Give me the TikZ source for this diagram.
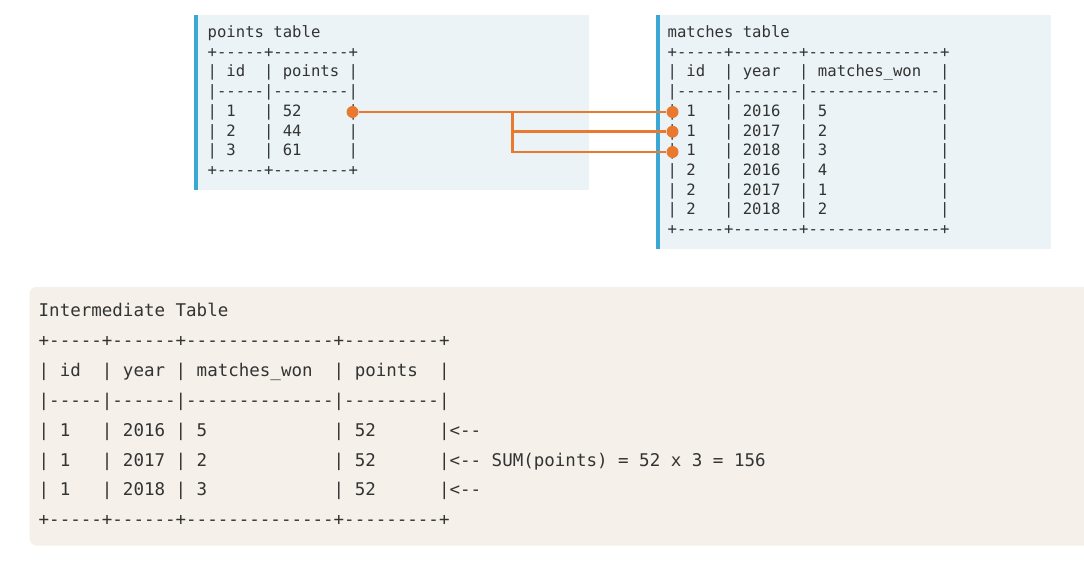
\documentclass[tikz,border=0pt]{standalone}
\usepackage{fontspec}
\setmonofont{DejaVu Sans Mono}
\definecolor{toppanel}{HTML}{EBF3F7}
\definecolor{accent}{HTML}{3AA7D4}
\definecolor{botpanel}{HTML}{F5F1EA}
\definecolor{link}{HTML}{E8792F}
\definecolor{ink}{HTML}{333333}
\tikzset{
  topline/.style={anchor=base west, inner sep=0pt, text=ink, font=\ttfamily\fontsize{15.6}{18}\selectfont},
  botline/.style={anchor=base west, inner sep=0pt, text=ink, font=\ttfamily\fontsize{17.5}{20}\selectfont},
  dot/.style={circle, fill=link, inner sep=0pt, minimum size=12pt},
  conn/.style={draw=link, line width=2.8pt, line join=miter},
}
\begin{document}
\begin{tikzpicture}[x=1pt,y=-1pt]
\useasboundingbox (0,0) rectangle (1084,570);
\fill[white] (0,0) rectangle (1084,570);
% panels
\fill[toppanel] (193.5,15) rectangle (589,190);
\fill[accent] (193.5,15) rectangle (197.5,190);
\fill[toppanel] (655.5,15) rectangle (1051,249);
\fill[accent] (655.5,15) rectangle (659.5,249);
\fill[botpanel, rounded corners=7pt] (29.5,287) rectangle (1095,545.5);
% points table
\node[topline] (pt0) at (207.5,37.5) {points~table};
\node[topline] (pt1) at (207.5,57.2) {+-----+--------+};
\node[topline] (pt2) at (207.5,76.9) {|~id~~|~points~|};
\node[topline] (pt3) at (207.5,96.6) {|-----|--------|};
\node[topline] (pt4) at (207.5,116.3) {|~1~~~|~52~~~~~|};
\node[topline] (pt5) at (207.5,136) {|~2~~~|~44~~~~~|};
\node[topline] (pt6) at (207.5,155.7) {|~3~~~|~61~~~~~|};
\node[topline] (pt7) at (207.5,175.4) {+-----+--------+};
% matches table
\node[topline] (mt0) at (667.5,37.5) {matches~table};
\node[topline] (mt1) at (667.5,57.2) {+-----+-------+--------------+};
\node[topline] (mt2) at (667.5,76.9) {|~id~~|~year~~|~matches\_won~~|};
\node[topline] (mt3) at (667.5,96.6) {|-----|-------|--------------|};
\node[topline] (mt4) at (667.5,116.3) {|~1~~~|~2016~~|~5~~~~~~~~~~~~|};
\node[topline] (mt5) at (667.5,136) {|~1~~~|~2017~~|~2~~~~~~~~~~~~|};
\node[topline] (mt6) at (667.5,155.7) {|~1~~~|~2018~~|~3~~~~~~~~~~~~|};
\node[topline] (mt7) at (667.5,175.4) {|~2~~~|~2016~~|~4~~~~~~~~~~~~|};
\node[topline] (mt8) at (667.5,195.1) {|~2~~~|~2017~~|~1~~~~~~~~~~~~|};
\node[topline] (mt9) at (667.5,214.8) {|~2~~~|~2018~~|~2~~~~~~~~~~~~|};
\node[topline] (mt10) at (667.5,234.5) {+-----+-------+--------------+};
% intermediate table
\node[botline] (it0) at (38.5,316.8) {Intermediate~Table};
\node[botline] (it1) at (38.5,346.65) {+-----+------+--------------+---------+};
\node[botline] (it2) at (38.5,376.5) {|~id~~|~year~|~matches\_won~~|~points~~|};
\node[botline] (it3) at (38.5,406.35) {|-----|------|--------------|---------|};
\node[botline] (it4) at (38.5,436.2) {|~1~~~|~2016~|~5~~~~~~~~~~~~|~52~~~~~~|<--};
\node[botline] (it5) at (38.5,466.05) {|~1~~~|~2017~|~2~~~~~~~~~~~~|~52~~~~~~|<--~SUM(points)~=~52~x~3~=~156};
\node[botline] (it6) at (38.5,495.9) {|~1~~~|~2018~|~3~~~~~~~~~~~~|~52~~~~~~|<--};
\node[botline] (it7) at (38.5,525.75) {+-----+------+--------------+---------+};
% connector dots
\node[dot] (d52) at (352.5,112) {};
\node[dot] (dm1) at (672.5,112) {};
\node[dot] (dm2) at (672.5,131.7) {};
\node[dot] (dm3) at (672.5,152) {};
\coordinate (j) at (512.7,112);
% connectors
\draw[conn] (d52) -- (dm1);
\draw[conn] (j) |- (dm2);
\draw[conn] (j) |- (dm3);
\end{tikzpicture}
\end{document}
